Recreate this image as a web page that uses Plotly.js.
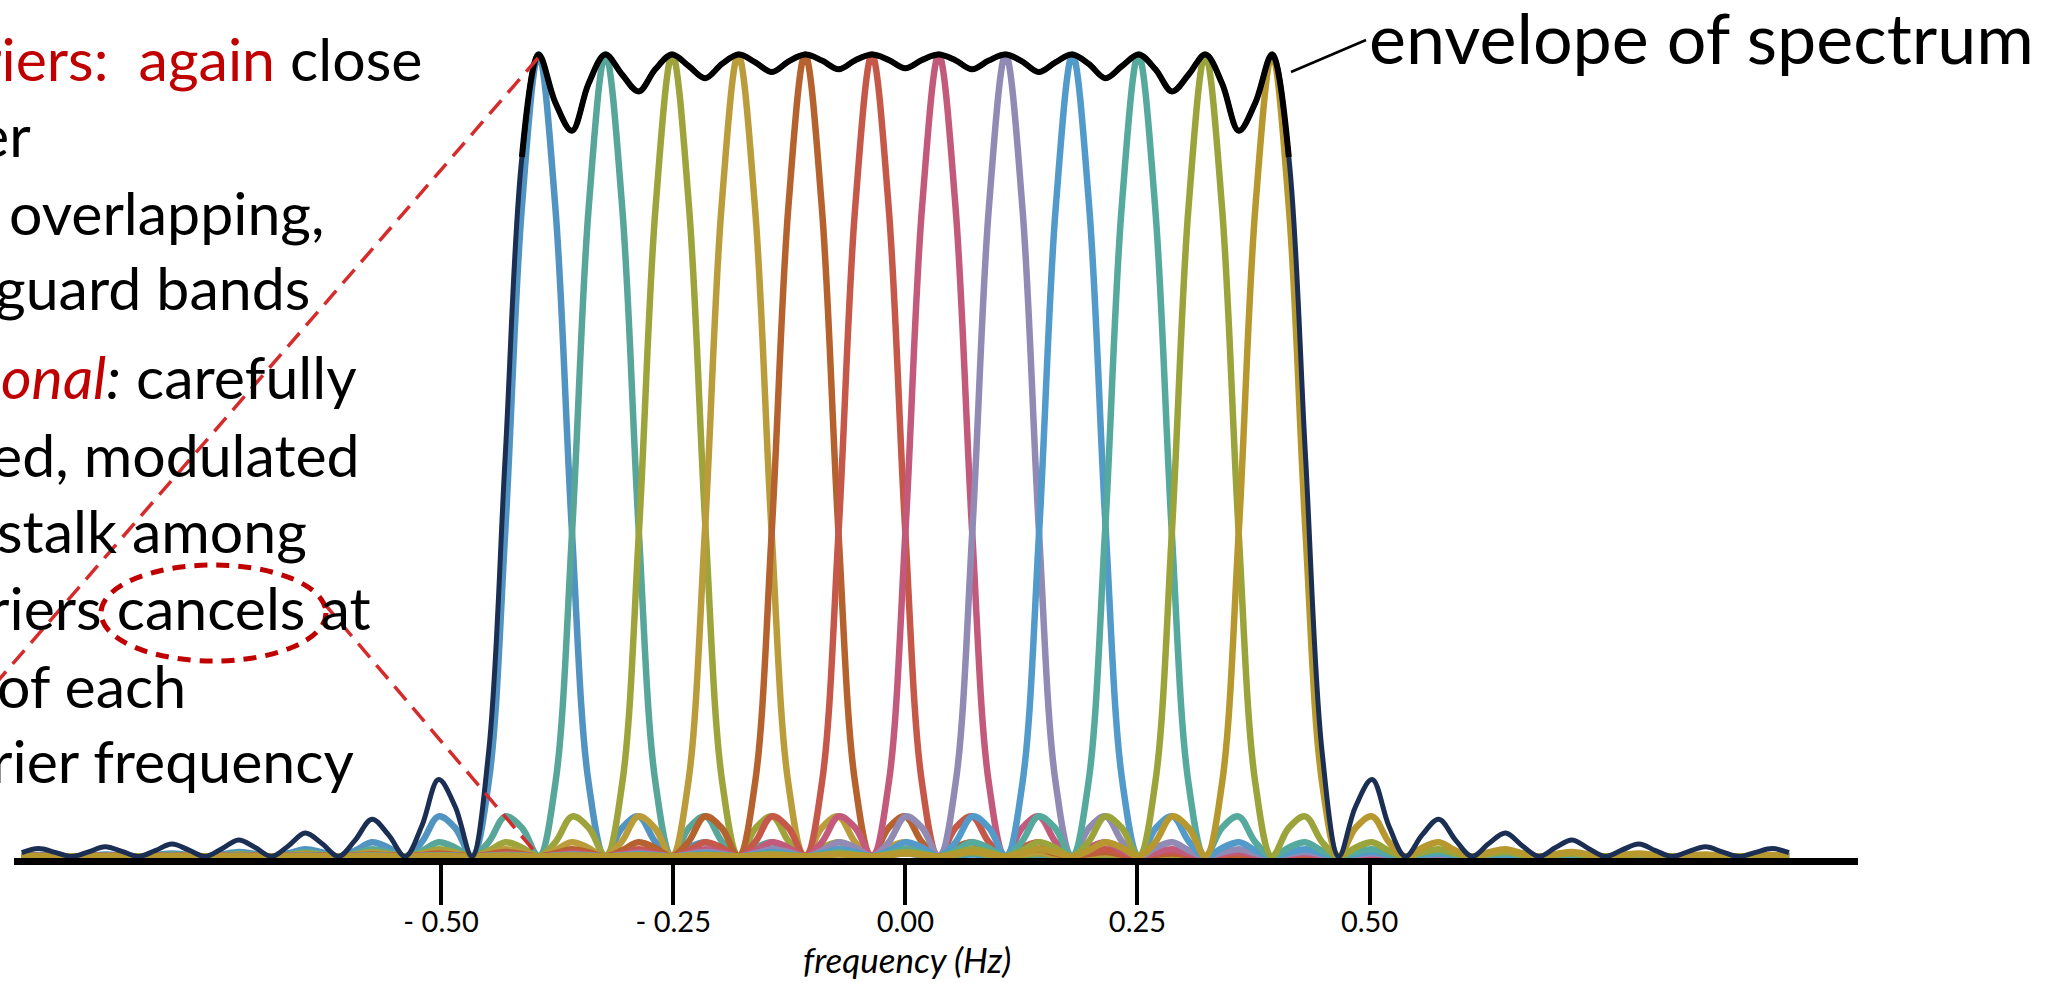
<!DOCTYPE html>
<html>
<head>
<meta charset="utf-8">
<script src="https://cdn.plot.ly/plotly-3.0.1.min.js"></script>
<style>
  html, body { margin: 0; padding: 0; background: #ffffff; }
  #chart { width: 2055px; height: 983px; }
</style>
</head>
<body>
<div id="chart"></div>
<script>
// ---------------- DATA ----------------
// centre frequency of each of the 12 subcarriers (Hz)
const carrierCenters = [-0.395, -0.323, -0.251, -0.180, -0.108, -0.036, 0.036, 0.108, 0.180, 0.251, 0.323, 0.395];
// relative power of one subcarrier pulse, sampled every quarter of the carrier spacing,
// from its centre outwards (offset 0, 0.25, 0.5, ... 19 spacings)
const pulseProfile = [
  1.0000, 0.8106, 0.4053, 0.0920,
  0, 0.0355, 0.0500, 0.0182,
  0, 0.0110, 0.0178, 0.0074,
  0, 0.0053, 0.0091, 0.0040,
  0, 0.0031, 0.0055, 0.0025,
  0, 0.0020, 0.0037, 0.0017,
  0, 0.0014, 0.0026, 0.0012,
  0, 0.0011, 0.0020, 0.0009,
  0, 0.0008, 0.0015, 0.0007,
  0, 0.0006, 0.0012, 0.0006,
  0, 0.0005, 0.0010, 0.0005,
  0, 0.0004, 0.0008, 0.0004,
  0, 0.0004, 0.0007, 0.0003,
  0, 0.0003, 0.0006, 0.0003,
  0, 0.0003, 0.0005, 0.0003,
  0, 0.0002, 0.0005, 0.0002,
  0, 0.0002, 0.0004, 0.0002,
  0, 0.0002, 0.0004, 0.0002,
  0, 0.0002, 0.0003, 0.0002,
  0
];
const pulseStep = 0.25;                 // profile sample step, in carrier spacings
const frequencyExtent = [-0.96, 0.96];  // frequencies covered by the plotted spectrum
const tickValues = [-0.5, -0.25, 0, 0.25, 0.5];
const tickLabels = ['- 0.50', '- 0.25', '0.00', '0.25', '0.50'];
const envelopeThreshold = 0.85;         // part of the envelope drawn in black

// ---------------- STYLE ----------------
const carrierColors = ['#5194C1', '#58A699', '#9DA43B', '#BB9C3B', '#B6622F', '#C6584A',
                       '#C35A7C', '#908AB5', '#519ACA', '#56A99D', '#9AA43A', '#B7982E'];
const W = 2055, H = 983;
const M = { l: 14, r: 197, t: 20, b: 125 };
const plotW = W - M.l - M.r, plotH = H - M.t - M.b;
const px2x = px => (px - M.l) / plotW;
const px2y = py => (H - M.b - py) / plotH;
const FONT = 'Lato, "Open Sans", sans-serif';

// ---------------- BUILD TRACES ----------------
const n = carrierCenters.length;
const spacing = (carrierCenters[n - 1] - carrierCenters[0]) / (n - 1);
const half = pulseProfile.length - 1;
const inRange = x => x >= frequencyExtent[0] - 1e-9 && x <= frequencyExtent[1] + 1e-9;

const traces = [];
carrierCenters.forEach((c, k) => {
  const xs = [], ys = [];
  for (let i = -half; i <= half; i++) {
    const x = c + i * pulseStep * spacing;
    if (!inRange(x)) continue;
    xs.push(x);
    ys.push(pulseProfile[Math.abs(i)]);
  }
  traces.push({
    type: 'scatter', mode: 'lines', x: xs, y: ys,
    line: { color: carrierColors[k], width: 6.5, shape: 'spline' },
    hoverinfo: 'skip', name: 'carrier ' + (k + 1)
  });
});

// total spectrum = sum of all carrier profiles on the common grid
const gridStep = pulseStep * spacing;
const jMin = Math.ceil((frequencyExtent[0] - carrierCenters[0]) / gridStep - 1e-9);
const jMax = Math.floor((frequencyExtent[1] - carrierCenters[0]) / gridStep + 1e-9);
const envX = [], envY = [];
for (let j = jMin; j <= jMax; j++) {
  const x = carrierCenters[0] + j * gridStep;
  let s = 0;
  carrierCenters.forEach(c => {
    const idx = Math.abs(Math.round((x - c) / gridStep));
    if (idx <= half) s += pulseProfile[idx];
  });
  envX.push(x); envY.push(s);
}
traces.push({
  type: 'scatter', mode: 'lines', x: envX, y: envY,
  line: { color: '#1B2E53', width: 5, shape: 'spline' },
  hoverinfo: 'skip', name: 'spectrum'
});
let first = envY.findIndex(v => v >= envelopeThreshold);
let last = envY.length - 1 - [...envY].reverse().findIndex(v => v >= envelopeThreshold);
traces.push({
  type: 'scatter', mode: 'lines', x: envX.slice(first, last + 1), y: envY.slice(first, last + 1),
  line: { color: '#000000', width: 6, shape: 'spline' },
  hoverinfo: 'skip', name: 'envelope'
});

// ---------------- ANNOTATIONS ----------------
const RED = '#C00000';
const textSize = 59;
const leftLines = [
  { t: '<span style="color:' + RED + '">riers:\u00A0 again</span> close', right: 424, base: 81 },
  { t: 'er', right: 33, base: 157 },
  { t: 'overlapping,', right: 326, base: 235 },
  { t: 'guard bands', right: 312, base: 310 },
  { t: '<i><span style="color:' + RED + '">onal</span>:</i> carefully', right: 359, base: 399 },
  { t: 'ed, modulated', right: 362, base: 477 },
  { t: 'stalk among', right: 309, base: 553 },
  { t: 'riers cancels at', right: 373, base: 630 },
  { t: 'of each', right: 188, base: 708 },
  { t: 'rier frequency', right: 356, base: 783 }
];
const annotations = leftLines.map(L => ({
  xref: 'paper', yref: 'paper', x: px2x(L.right), y: px2y(L.base - 0.387 * textSize),
  xanchor: 'right', yanchor: 'middle', showarrow: false, text: L.t,
  font: { family: FONT, size: textSize, color: '#000000' }
}));
const envSize = 70;
annotations.push({
  xref: 'paper', yref: 'paper', x: px2x(1367), y: px2y(64 - 0.387 * envSize),
  xanchor: 'left', yanchor: 'middle', showarrow: false, text: 'envelope of spectrum',
  font: { family: FONT, size: envSize, color: '#000000' }
});
// axis title, centred under 0 Hz as in the original
annotations.push({
  xref: 'x', yref: 'paper', x: 0.002, y: px2y(959),
  xanchor: 'center', yanchor: 'middle', showarrow: false, text: '<i>frequency (Hz)</i>',
  font: { family: FONT, size: 35, color: '#000000' }
});

// ---------------- SHAPES ----------------
const line = (x0, y0, x1, y1, color, width, dash) => ({
  type: 'line', xref: 'paper', yref: 'paper',
  x0: px2x(x0), y0: px2y(y0), x1: px2x(x1), y1: px2y(y1),
  line: { color: color, width: width, dash: dash }, layer: 'above'
});
const shapes = [
  line(538, 58, -10, 690, '#D62B2B', 3.5, '18px,10px'),
  line(322, 601, 536, 853, '#D62B2B', 3.5, '18px,10px'),
  line(1291, 72, 1366, 40, '#000000', 2.5, 'solid'),
  { type: 'circle', xref: 'paper', yref: 'paper',
    x0: px2x(101), x1: px2x(326), y0: px2y(565), y1: px2y(661),
    line: { color: RED, width: 5, dash: '13px,9px' }, layer: 'above' }
];

const yMin = -1.5 / 800.5;
const yMax = (H - M.b - 1.5 - M.t) / 800.5 + yMin;

const layout = {
  width: W, height: H, margin: M,
  paper_bgcolor: '#ffffff', plot_bgcolor: '#ffffff',
  showlegend: false, hovermode: false,
  xaxis: {
    range: [-0.96, 1.026], showgrid: false, zeroline: false,
    showline: true, linecolor: '#000000', linewidth: 7,
    ticks: 'outside', ticklen: 40, tickwidth: 4, tickcolor: '#000000',
    tickvals: tickValues, ticktext: tickLabels,
    tickfont: { family: FONT, size: 29, color: '#000000' },
    ticklabelstandoff: -8,
    fixedrange: true
  },
  yaxis: { range: [yMin, yMax], visible: false, fixedrange: true },
  annotations: annotations,
  shapes: shapes
};

Plotly.newPlot('chart', traces, layout, { displayModeBar: false, staticPlot: true });
</script>
</body>
</html>
